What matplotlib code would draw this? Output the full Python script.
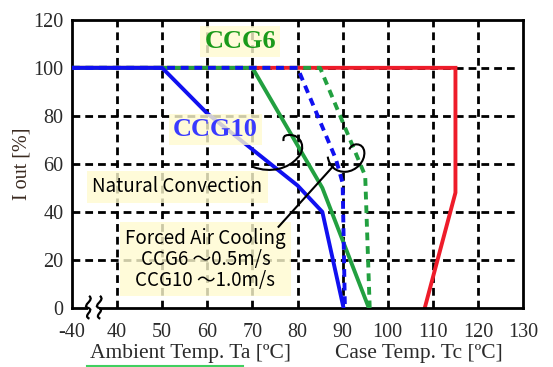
import matplotlib.pyplot as plt
import numpy as np
from matplotlib.path import Path
from matplotlib.patches import PathPatch, Rectangle

# axis positions (30 on the axis is drawn as "-40", break after it)
x_ticks = [30, 40, 50, 60, 70, 80, 90, 100, 110, 120, 130]
x_labels = ['-40', '40', '50', '60', '70', '80', '90', '100', '110', '120', '130']
y_ticks = [0, 20, 40, 60, 80, 100, 120]

# derating curves
ccg10_nat_x = [30, 50, 60, 70, 80, 85.5, 90.2]
ccg10_nat_y = [100, 100, 81, 66, 51, 40, 0]
ccg6_nat_x = [30, 70, 85.5, 95.8]
ccg6_nat_y = [100, 100, 50, 0]
ccg10_air_x = [30, 80, 88.5, 90, 90.5]
ccg10_air_y = [100, 100, 62, 52, 0]
ccg6_air_x = [30, 85, 95, 96]
ccg6_air_y = [100, 100, 55, 0]
case_x = [30, 115, 115, 108.2]
case_y = [100, 100, 48, 0]

BLUE = '#1010f0'
GREEN = '#22a040'
RED = '#ee1c2a'
BOX = '#fffbd0'
TXT = '#2a2a2a'

fig = plt.figure(figsize=(5.53, 3.67), dpi=100)
ax = fig.add_axes([0.130, 0.161, 0.816, 0.785])
ax.set_xlim(30, 130)
ax.set_ylim(0, 120)

# dashed grid
for gx in x_ticks[1:-1]:
    ax.plot([gx, gx], [0, 120], color='black', lw=2, dashes=(2.8, 1.8), zorder=1)
for gy in y_ticks[1:-1]:
    ax.plot([30, 128.5], [gy, gy], color='black', lw=2, dashes=(2.8, 1.8), zorder=1)

ax.plot(case_x, case_y, color=RED, lw=2.8, zorder=2, solid_joinstyle='miter')
ax.plot(ccg6_nat_x, ccg6_nat_y, color=GREEN, lw=2.8, zorder=3)
ax.plot(ccg6_air_x, ccg6_air_y, color=GREEN, lw=2.8, dashes=(2, 1.5), zorder=4)
ax.plot(ccg10_air_x, ccg10_air_y, color=BLUE, lw=2.8, dashes=(2, 1.5), zorder=5)
ax.plot(ccg10_nat_x, ccg10_nat_y, color=BLUE, lw=2.8, zorder=6)

for s in ax.spines.values():
    s.set_linewidth(2)
    s.set_color('black')

ax.set_xticks(x_ticks)
ax.set_xticklabels(x_labels)
ax.set_yticks(y_ticks)
ax.tick_params(length=0, labelsize=14.5, labelcolor=TXT)
ax.tick_params(axis='x', pad=11)
ax.tick_params(axis='y', pad=6)
for lab in ax.get_xticklabels() + ax.get_yticklabels():
    lab.set_family('Liberation Serif')

ax.set_ylabel('I out [%]', family='Liberation Serif', fontsize=14.5, color='#3a2a20', labelpad=1)

# axis labels below
fig.text(0.345, 0.036, 'Ambient Temp. Ta [ºC]', family='Liberation Serif', fontsize=15.5,
         color=TXT, ha='center', va='center')
fig.text(0.758, 0.036, 'Case Temp. Tc [ºC]', family='Liberation Serif', fontsize=15.5,
         color=TXT, ha='center', va='center')
fig.add_artist(plt.Line2D([0.157, 0.44], [0.003, 0.003], color='#40d060', lw=1.5))

# axis break mark: white gap in the spine plus two squiggles
ax.add_patch(Rectangle((33.5, -2.5), 2.6, 5, facecolor='white', edgecolor='none',
                       zorder=10, clip_on=False))
C = Path.CURVE4
for cx in (33.6, 36.0):
    sq = Path([(cx + 0.2, 5.0), (cx + 1.6, 3.2), (cx - 1.6, 1.0), (cx, 0.0),
               (cx + 1.6, -1.0), (cx - 1.4, -3.2), (cx + 0.3, -4.5)],
              [Path.MOVETO, C, C, C, C, C, C])
    ax.add_patch(PathPatch(sq, facecolor='none', edgecolor='black', lw=1.6,
                           zorder=11, clip_on=False))

# labels with yellow boxes
bprops = dict(boxstyle='square,pad=0.15', facecolor=BOX, edgecolor='none', alpha=0.8)
ax.text(67.3, 110.8, 'CCG6', family='Liberation Serif', fontweight='bold', fontsize=19,
        color='#1a9a1a', ha='center', va='center', zorder=7, bbox=bprops)
ax.text(61.8, 74.5, 'CCG10', family='Liberation Serif', fontweight='bold', fontsize=19,
        color='#3a3aff', ha='center', va='center', zorder=7, bbox=bprops)

sans = ['Noto Sans CJK JP', 'DejaVu Sans']
ax.text(53.4, 50.5, 'Natural Convection', family=sans, fontsize=13.5, color='black',
        ha='center', va='center', zorder=7,
        bbox=dict(boxstyle='square,pad=0.3', facecolor=BOX, edgecolor='none', alpha=0.8))
ax.text(59.6, 20.3, 'Forced Air Cooling\nCCG6 ～0.5m/s\nCCG10 ～1.0m/s', family=sans,
        fontsize=13.5, color='black', ha='center', va='center', zorder=7, linespacing=1.0,
        bbox=dict(boxstyle='square,pad=0.3', facecolor=BOX, edgecolor='none', alpha=0.8))

# hand-drawn hooks and leader
hook1 = Path([(70.2, 58.7), (74, 56), (78, 58), (80, 62.5),
              (82, 66), (81, 72.5), (78, 72), (77, 72), (76.8, 71), (76.9, 69.5)],
             [Path.MOVETO, C, C, C, C, C, C, C, C, C])
hook2 = Path([(86.7, 63), (87, 59), (88.5, 56.5), (90.7, 56.7),
              (93, 57), (95, 61), (94.8, 65), (94.6, 69), (92, 69), (91.5, 66)],
             [Path.MOVETO, C, C, C, C, C, C, C, C, C])
for p in (hook1, hook2):
    ax.add_patch(PathPatch(p, facecolor='none', edgecolor='black', lw=1.5, zorder=9))
ax.plot([87.8, 75.8], [58.8, 33.8], color='black', lw=1.5, zorder=9)

fig.savefig('out.png', dpi=100)
